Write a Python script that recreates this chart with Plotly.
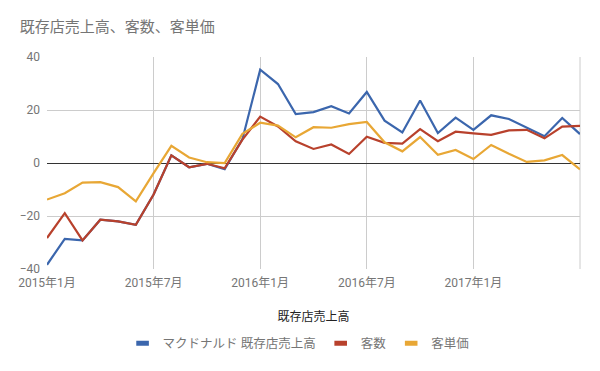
import plotly.graph_objects as go

months = [f"{y}年{m}月" for y in (2015, 2016, 2017) for m in range(1, 13)][:31]
tick_labels = ["2015年1月", "2015年7月", "2016年1月", "2016年7月", "2017年1月", "2017年7月"]
tick_text = ["2015年1月", "2015年7月", "2016年1月", "2016年7月", "2017年1月", ""]

sales = [-38.4, -28.6, -29.2, -21.4, -22.0, -23.3, -11.9, 2.9, -1.6, -0.3, -2.3, 9.0,
         35.2, 29.8, 18.5, 19.2, 21.4, 18.7, 26.8, 16.0, 11.5, 23.6, 11.3, 17.1,
         12.5, 18.0, 16.6, 13.2, 10.1, 17.0, 10.9]
customers = [-28.3, -18.9, -29.2, -21.4, -22.0, -23.3, -11.9, 2.9, -1.6, -0.3, -2.0, 8.8,
             17.5, 13.8, 8.2, 5.3, 7.0, 3.4, 9.9, 7.6, 7.3, 12.8, 8.2, 11.8,
             11.2, 10.6, 12.3, 12.5, 9.3, 13.7, 14.0]
unit_price = [-13.8, -11.4, -7.4, -7.2, -9.1, -14.5, -3.8, 6.5, 2.1, 0.3, 0.0, 11.0,
              15.2, 14.1, 9.7, 13.5, 13.3, 14.7, 15.5, 7.8, 4.4, 9.8, 3.1, 4.9,
              1.5, 6.8, 3.5, 0.4, 1.0, 3.0, -2.4]

names = ["マクドナルド 既存店売上高", "客数", "客単価"]
colors = ["#3b66ad", "#b8412c", "#e8a735"]
series = [sales, customers, unit_price]

fig = go.Figure()
for name, vals, col in zip(names, series, colors):
    fig.add_trace(go.Scatter(x=months, y=vals, mode="lines", name=name,
                             line=dict(color=col, width=2.2), showlegend=False))
for name, col in zip(names, colors):
    fig.add_trace(go.Scatter(x=[None], y=[None], mode="markers", name=name,
                             marker=dict(symbol="line-ew", size=9,
                                         line=dict(color=col, width=5))))

fig.add_shape(type="line", xref="paper", yref="paper", x0=1, x1=1, y0=0, y1=1,
              line=dict(color="#cccccc", width=1), layer="below")

font = "Roboto, Noto Sans CJK JP, sans-serif"
fig.update_layout(
    width=600, height=371,
    margin=dict(l=47, r=20, t=57, b=102, autoexpand=False),
    paper_bgcolor="white", plot_bgcolor="white",
    font=dict(family=font, size=12, color="#757575"),
    title=dict(text="既存店売上高、客数、客単価", x=0.033, xanchor="left",
               y=0.928, yanchor="middle",
               font=dict(family="Noto Sans CJK JP, sans-serif", size=15, color="#757575")),
    xaxis=dict(type="category", range=[0, 30], tickmode="array",
               tickvals=tick_labels, ticktext=tick_text, automargin=False,
               showgrid=True, gridcolor="#cccccc", gridwidth=1,
               showline=False, zeroline=False, ticks="", ticklabelstandoff=5,
               tickfont=dict(size=12, color="#757575"),
               title=dict(text="既存店売上高", standoff=23,
                          font=dict(size=12, color="#222222"))),
    yaxis=dict(range=[-40, 40], tickvals=[-40, -20, 0, 20, 40], automargin=False,
               showgrid=True, gridcolor="#cccccc", gridwidth=1,
               zeroline=True, zerolinecolor="#333333", zerolinewidth=1,
               showline=False, ticks="", ticklabelstandoff=6,
               tickfont=dict(size=12, color="#757575")),
    legend=dict(orientation="h", x=0.472, xanchor="center", y=-0.281, yanchor="top",
                font=dict(size=12.5, color="#757575"), itemwidth=30),
)
fig.write_html("out.html", config={"displayModeBar": False},
               post_script="document.body.style.margin='0';")
